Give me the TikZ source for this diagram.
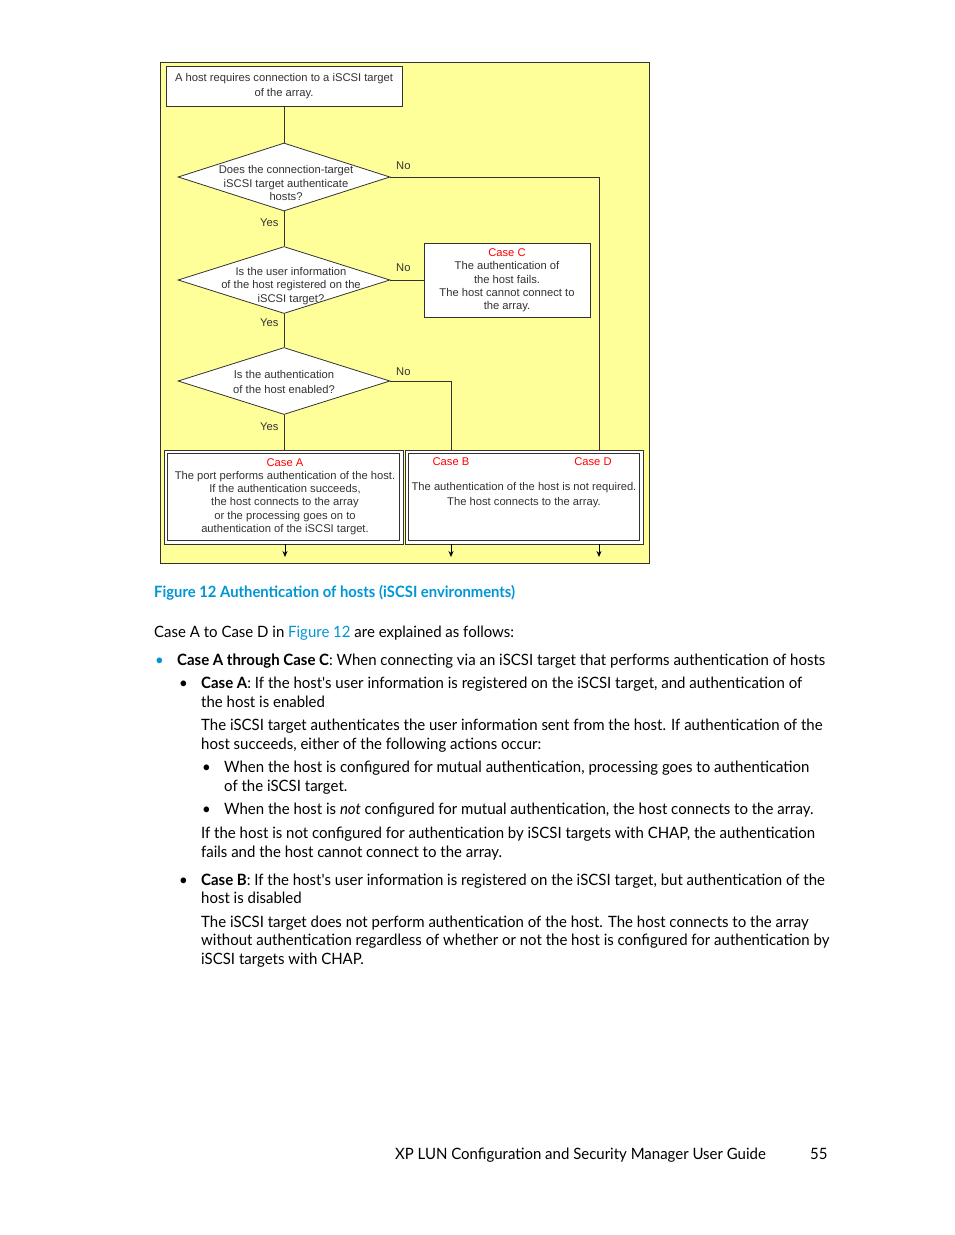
\documentclass[tikz,border=0pt]{standalone}
\usepackage{fontspec}
\usetikzlibrary{arrows.meta,shapes.geometric}
\newfontfamily\bodyfam[FakeStretch=0.96]{Lato}
\newfontfamily\capfam[FakeStretch=0.95]{Lato}
\newfontfamily\dfam{Liberation Sans}
\definecolor{bgyellow}{RGB}{255,255,153}
\definecolor{hpblue}{RGB}{0,150,214}
\definecolor{casered}{RGB}{255,0,0}
\definecolor{lin}{RGB}{50,50,50}
\newcommand{\bodyfont}{\bodyfam\fontsize{15.6}{19}\selectfont}
\newcommand{\dfont}{\dfam\fontsize{11.2}{13.3}\selectfont}
\begin{document}
\begin{tikzpicture}[x=1pt,y=-1pt,
  body/.style={anchor=base west,inner sep=0pt,font=\bodyfont},
  dtext/.style={inner sep=0pt,font=\dfont,text=lin,align=center},
  lbl/.style={inner sep=0pt,font=\dfont,text=lin,anchor=base west},
  box/.style={draw=lin,fill=white,line width=0.8pt,inner sep=0pt},
  dia/.style={draw=lin,fill=white,line width=0.8pt,diamond,inner sep=0pt},
  conn/.style={draw=lin,line width=0.8pt},
  arr/.style={draw=black,line width=0.8pt,-{Stealth[length=6pt,width=5pt]}}]
\useasboundingbox[fill=white] (0,0) rectangle (954,1235);
% background panel
\node[draw=lin,fill=bgyellow,line width=0.8pt,minimum width=489pt,minimum height=501pt,inner sep=0pt] (panel) at (404.5,312.5) {};
% boxes
\node[box,minimum width=236pt,minimum height=40pt] (top) at (284,86) {};
\node[dtext,font=\dfam\fontsize{11.2}{15}\selectfont] (toptxt) at (284,86) {A host requires connection to a iSCSI target\\of the array.};
\node[dia,minimum width=212pt,minimum height=68pt] (d1) at (284,177) {};
\node[dtext] (d1t) at (286,183) {Does the connection-target\\iSCSI target authenticate\\hosts?};
\node[dia,minimum width=212pt,minimum height=67pt] (d2) at (284,280) {};
\node[dtext] (d2t) at (291,286) {Is the user information\\of the host registered on the\\iSCSI target?};
\node[dia,minimum width=212pt,minimum height=67pt] (d3) at (284,381) {};
\node[dtext,font=\dfam\fontsize{11.2}{15}\selectfont] (d3t) at (284,382) {Is the authentication\\of the host enabled?};
\node[box,minimum width=166pt,minimum height=74pt] (cC) at (507,280) {};
\node[dtext] (cCt) at (507,280.5) {\textcolor{casered}{Case C}\\The authentication of\\the host fails.\\The host cannot connect to\\the array.};
\node[box,minimum width=239pt,minimum height=94pt] (cA) at (283.5,497) {};
\draw[draw=lin,line width=0.8pt] ([shift={(4,4)}]cA.north west) rectangle ([shift={(-4,-4)}]cA.south east);
\node[dtext] (cAt) at (285,496.5) {\textcolor{casered}{Case A}\\The port performs authentication of the host.\\If the authentication succeeds,\\the host connects to the array\\or the processing goes on to\\authentication of the iSCSI target.};
\node[box,minimum width=238pt,minimum height=94pt] (cBD) at (524,497) {};
\draw[draw=lin,line width=0.8pt] ([shift={(4,4)}]cBD.north west) rectangle ([shift={(-4,-4)}]cBD.south east);
\node[dtext,text=casered] (cBt) at (451,462) {Case B};
\node[dtext,text=casered] (cDt) at (593,462) {Case D};
\node[dtext,font=\dfam\fontsize{11.2}{15}\selectfont] (cBDt) at (524,495) {The authentication of the host is not required.\\The host connects to the array.};
% labels
\node[lbl] (no1) at (396,169) {No};
\node[lbl] (no2) at (396,271) {No};
\node[lbl] (no3) at (396,375) {No};
\node[lbl] (y1) at (260,226) {Yes};
\node[lbl] (y2) at (260,326) {Yes};
\node[lbl] (y3) at (260,430) {Yes};
% connectors
\coordinate (bx) at (451,450);
\coordinate (dx) at (599,450);
\draw[conn] (top.south) -- (d1.north);
\draw[conn] (d1.south) -- (d2.north);
\draw[conn] (d2.south) -- (d3.north);
\draw[conn] (d3.south) -- (cA.north -| d3.south);
\draw[conn] (d1.east) -| (dx);
\draw[conn] (d2.east) -- (cC.west);
\draw[conn] (d3.east) -| (bx);
\coordinate (ea) at (285,557);
\coordinate (eb) at (451,557);
\coordinate (ed) at (599,557);
\draw[arr] (cA.south -| ea) -- (ea);
\draw[arr] (cBD.south -| eb) -- (eb);
\draw[arr] (cBD.south -| ed) -- (ed);
% caption and text
\node[body,font=\capfam\bfseries\fontsize{15.6}{19}\selectfont,text=hpblue] (cap) at (154,597) {Figure 12 Authentication of hosts (iSCSI environments)};
\node[body] (t1) at (154,637) {Case A to Case D in \textcolor{hpblue}{Figure 12} are explained as follows:};
\node[body,text=hpblue] (b1) at (155,665) {•};
\node[body] (t2) at (177,665) {\textbf{Case A through Case C}: When connecting via an iSCSI target that performs authentication of hosts};
\node[body] (b2) at (179,688) {•};
\node[body] (t3) at (201,688) {\textbf{Case A}: If the host's user information is registered on the iSCSI target, and authentication of};
\node[body] (t4) at (201,707) {the host is enabled};
\node[body] (t5) at (201,730) {The iSCSI target authenticates the user information sent from the host. If authentication of the};
\node[body] (t6) at (201,749) {host succeeds, either of the following actions occur:};
\node[body] (b3) at (202,772) {•};
\node[body] (t7) at (224,772) {When the host is configured for mutual authentication, processing goes to authentication};
\node[body] (t8) at (224,791) {of the iSCSI target.};
\node[body] (b4) at (202,814) {•};
\node[body] (t9) at (224,814) {When the host is \textit{not} configured for mutual authentication, the host connects to the array.};
\node[body] (t10) at (201,838) {If the host is not configured for authentication by iSCSI targets with CHAP, the authentication};
\node[body] (t11) at (201,857) {fails and the host cannot connect to the array.};
\node[body] (b5) at (179,885) {•};
\node[body] (t12) at (201,885) {\textbf{Case B}: If the host's user information is registered on the iSCSI target, but authentication of the};
\node[body] (t13) at (201,903) {host is disabled};
\node[body] (t14) at (201,927) {The iSCSI target does not perform authentication of the host. The host connects to the array};
\node[body] (t15) at (201,945) {without authentication regardless of whether or not the host is configured for authentication by};
\node[body] (t16) at (201,964) {iSCSI targets with CHAP.};
\node[body] (f1) at (395,1159) {XP LUN Configuration and Security Manager User Guide};
\node[body] (f2) at (810,1159) {55};
\end{tikzpicture}
\end{document}
